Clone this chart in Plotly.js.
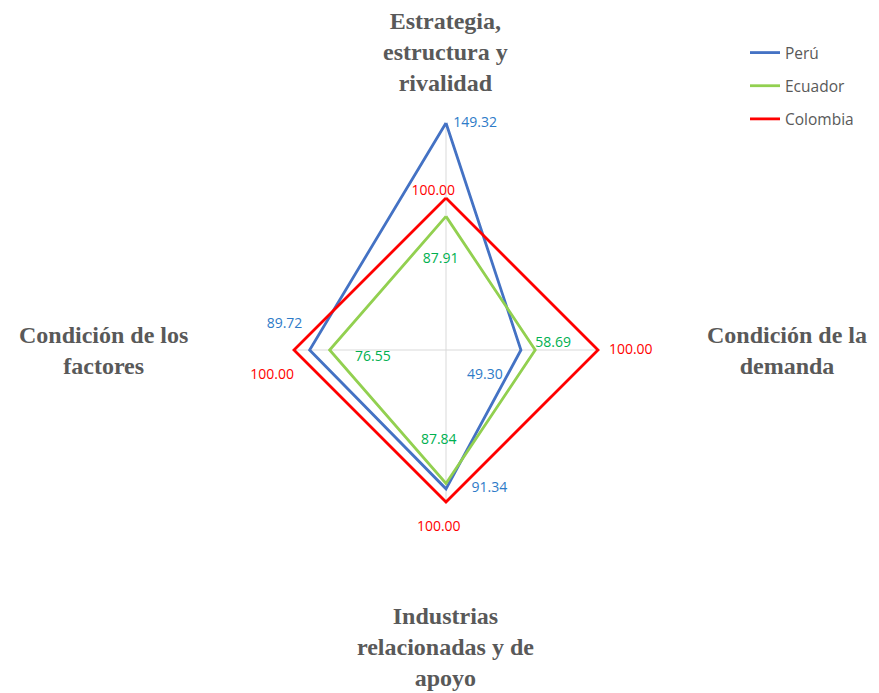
<!DOCTYPE html>
<html>
<head>
<meta charset="utf-8">
<script src="https://cdn.plot.ly/plotly-3.0.1.min.js"></script>
<style>html,body{margin:0;padding:0;background:#fff;}#chart{width:879px;height:693px;}</style>
</head>
<body>
<div id="chart"></div>
<script>
// ---- data ----
const categories = [
  "Estrategia,<br>estructura y<br>rivalidad",
  "Condición de la<br>demanda",
  "Industrias<br>relacionadas y de<br>apoyo",
  "Condición de los<br>factores"
];
const seriesNames = ["Perú", "Ecuador", "Colombia"];
const peru     = [149.32, 49.30, 91.34, 89.72];
const ecuador  = [87.91, 58.69, 87.84, 76.55];
const colombia = [100.00, 100.00, 100.00, 100.00];

// ---- styles ----
const lineColors  = ["#4472C4", "#92D050", "#FF0000"];
const labelColors = ["#2E7BC8", "#00B050", "#FF0000"];
// label placement per series/point (style only)
const labelPos = [
  ["middle right", "bottom left", "middle right", "top left"],
  ["bottom center", "top right", "top center", "bottom right"],
  ["top center", "middle right", "bottom center", "bottom left"]
];
// padding: [leading spaces, trailing spaces, blank lines above, blank lines below]
const labelPad = [
  [[2,0,0,0], [0,5,1,0], [7,0,0,0], [0,2,0,1]],
  [[0,3,2,0], [0,0,0,0], [0,4,0,2], [7,0,0,0]],
  [[0,7,0,0], [3,0,0,0], [0,4,1,0], [0,0,1,0]]
];
const allSeries = [peru, ecuador, colombia];

const thetaKeys = categories.map((c, i) => "c" + i);
const close = a => a.concat([a[0]]);
const NB = "\u00A0";

function fmt(v, p) {
  return "<br>".repeat(p[2]) + NB.repeat(p[0]) + v.toFixed(2) + NB.repeat(p[1]) + "<br>".repeat(p[3]);
}

const traces = [];
// spokes: from centre to the largest value on each axis
thetaKeys.forEach((k, i) => {
  const mx = Math.max(...allSeries.map(s => s[i]));
  traces.push({
    type: "scatterpolar", mode: "lines",
    r: [0, mx], theta: [k, k],
    line: {color: "#D9D9D9", width: 1},
    showlegend: false, hoverinfo: "skip"
  });
});

allSeries.forEach((vals, si) => {
  traces.push({
    type: "scatterpolar",
    mode: "lines+text",
    name: seriesNames[si],
    legendgroup: "g" + si,
    r: close(vals),
    theta: close(thetaKeys),
    line: {color: lineColors[si], width: 2.8},
    text: vals.map((v, i) => fmt(v, labelPad[si][i])).concat([""]),
    textposition: close(labelPos[si]),
    textfont: {family: "Open Sans, Noto Sans, sans-serif", size: 14, color: labelColors[si]},
    cliponaxis: false
  });
});

// category labels placed around the chart
const catAnchors = [
  {x: 446, y: 52}, {x: 787, y: 351}, {x: 446, y: 647}, {x: 103, y: 351}
];
const annotations = categories.map((c, i) => ({
  xref: "paper", yref: "paper",
  x: catAnchors[i].x / 879, y: 1 - catAnchors[i].y / 693,
  xanchor: "center", yanchor: "middle",
  text: "<b>" + c + "</b>", showarrow: false, align: "center",
  font: {family: "Liberation Serif, Times New Roman, serif", size: 24, color: "#595959"}
}));

const layout = {
  width: 879, height: 693,
  margin: {l: 0, r: 0, t: 0, b: 0},
  paper_bgcolor: "#ffffff",
  showlegend: true,
  legend: {
    x: 745 / 879, y: 1 - 36 / 693, xanchor: "left", yanchor: "top",
    traceorder: "grouped", tracegroupgap: 10,
    font: {family: "Open Sans, Noto Sans, sans-serif", size: 15.5, color: "#595959"},
    bgcolor: "rgba(0,0,0,0)"
  },
  polar: {
    domain: {x: [218 / 879, 674 / 879], y: [115 / 693, 571 / 693]},
    bgcolor: "rgba(0,0,0,0)",
    radialaxis: {visible: false, range: [0, 150], showgrid: false, showline: false},
    angularaxis: {
      type: "category", categoryorder: "array", categoryarray: thetaKeys,
      rotation: 90, direction: "clockwise",
      showticklabels: false, showgrid: false, showline: false, ticks: ""
    }
  },
  annotations: annotations
};

Plotly.newPlot("chart", traces, layout, {displayModeBar: false, staticPlot: true});
</script>
</body>
</html>
